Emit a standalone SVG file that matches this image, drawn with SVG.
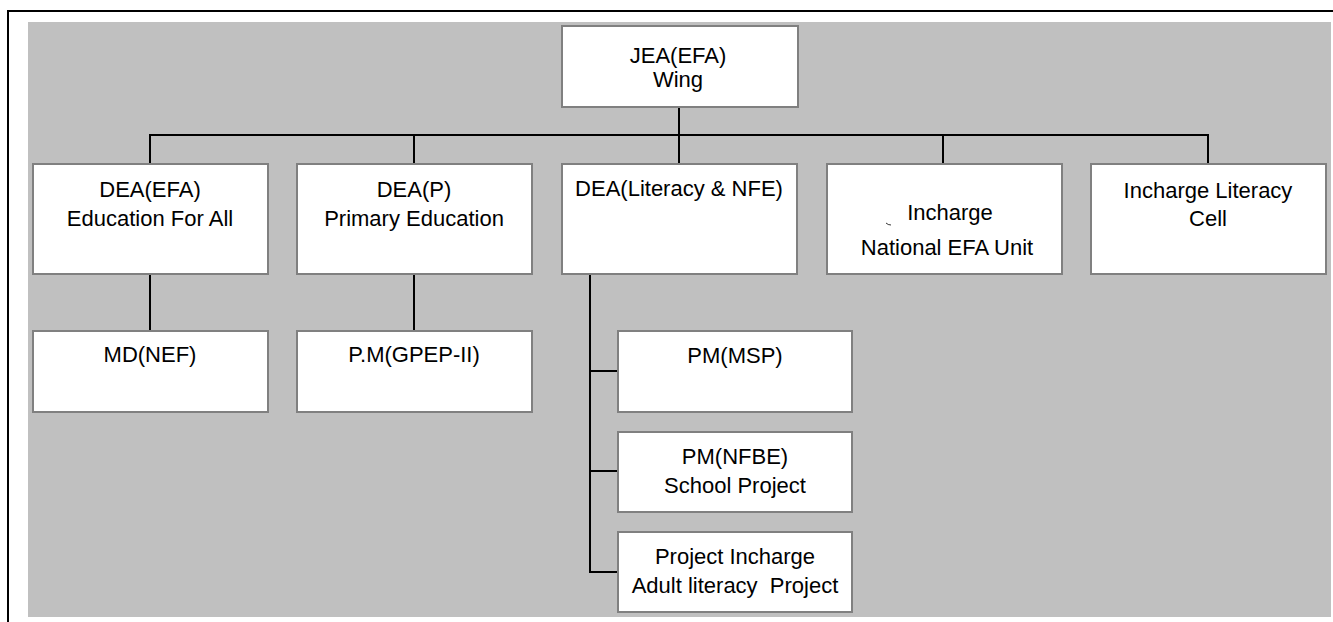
<svg xmlns="http://www.w3.org/2000/svg" width="1333" height="622" viewBox="0 0 1333 622">
<style>
.box{fill:#ffffff;stroke:#808080;stroke-width:2}
.t{font-family:"Liberation Sans",Arial,sans-serif;font-size:22px;fill:#000;text-anchor:middle;white-space:pre}
.c{fill:none;stroke:#000;stroke-width:2}
</style>
<rect x="0" y="0" width="1333" height="622" fill="#ffffff"/>
<path d="M8 622 V11 H1333" fill="none" stroke="#000" stroke-width="2"/>
<rect x="28" y="22" width="1303" height="595" fill="#c0c0c0"/>
<g id="connectors">
<path class="c" d="M679 107 V164"/>
<path class="c" d="M150 164 V135 H1208 V164"/>
<path class="c" d="M414 135 V164"/>
<path class="c" d="M943 135 V164"/>
<path class="c" d="M150 274 V331"/>
<path class="c" d="M414 274 V331"/>
<path class="c" d="M590 274 V572 H618"/>
<path class="c" d="M590 371 H618"/>
<path class="c" d="M590 471 H618"/>
</g>
<g id="jea"><rect class="box" x="562" y="26" width="236" height="81"/><text class="t" x="678" y="63">JEA(EFA)</text><text class="t" x="678" y="87">Wing</text></g>
<g id="dea_efa"><rect class="box" x="33" y="164" width="235" height="110"/><text class="t" x="150" y="197">DEA(EFA)</text><text class="t" x="150" y="226">Education For All</text></g>
<g id="dea_p"><rect class="box" x="297" y="164" width="235" height="110"/><text class="t" x="414" y="197">DEA(P)</text><text class="t" x="414" y="226">Primary Education</text></g>
<g id="dea_lit"><rect class="box" x="562" y="164" width="235" height="110"/><text class="t" x="679" y="196">DEA(Literacy &amp; NFE)</text></g>
<g id="incharge_nat"><rect class="box" x="827" y="164" width="235" height="110"/><path d="M886 223 Q888 225 891 225" fill="none" stroke="#000" stroke-width="0.8"/><text class="t" x="950" y="220">Incharge</text><text class="t" x="947" y="255">National EFA Unit</text></g>
<g id="incharge_lit"><rect class="box" x="1091" y="164" width="235" height="110"/><text class="t" x="1208" y="198">Incharge Literacy</text><text class="t" x="1208" y="226">Cell</text></g>
<g id="md_nef"><rect class="box" x="33" y="331" width="235" height="81"/><text class="t" x="150" y="362">MD(NEF)</text></g>
<g id="pm_gpep"><rect class="box" x="297" y="331" width="235" height="81"/><text class="t" x="414" y="362">P.M(GPEP-II)</text></g>
<g id="pm_msp"><rect class="box" x="618" y="331" width="234" height="81"/><text class="t" x="735" y="363">PM(MSP)</text></g>
<g id="pm_nfbe"><rect class="box" x="618" y="432" width="234" height="80"/><text class="t" x="735" y="464">PM(NFBE)</text><text class="t" x="735" y="493">School Project</text></g>
<g id="proj_inch"><rect class="box" x="618" y="532" width="234" height="80"/><text class="t" x="735" y="564">Project Incharge</text><text class="t" x="735" y="593">Adult literacy  Project</text></g>
</svg>
